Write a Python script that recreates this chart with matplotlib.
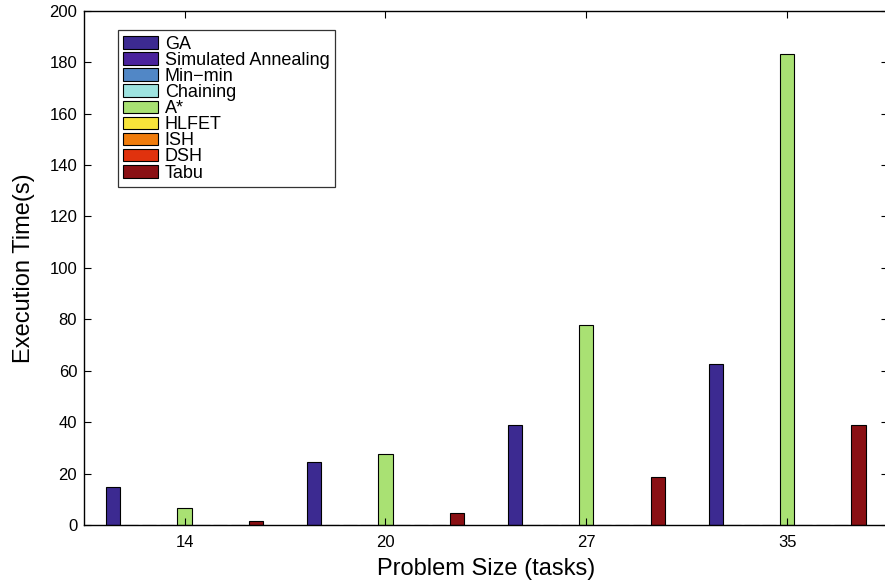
import numpy as np
import matplotlib.pyplot as plt

plt.rcParams['font.family'] = ['Liberation Sans', 'DejaVu Sans']

sizes = ['14', '20', '27', '35']
algorithms = ['GA', 'Simulated Annealing', 'Min\u2212min', 'Chaining', 'A*',
              'HLFET', 'ISH', 'DSH', 'Tabu']
colors = ['#3c2a91', '#4a229c', '#5187c6', '#9ee3e0', '#a9e173',
          '#f7e43a', '#f07c0c', '#e0320e', '#8a1014']

# execution time (s) per algorithm, one value per problem size
ga = [14.8, 24.5, 38.9, 62.6]
sa = [0.05, 0.08, 0.1, 0.15]
minmin = [0.02, 0.03, 0.05, 0.06]
chaining = [0.03, 0.04, 0.06, 0.08]
astar = [6.5, 27.5, 77.7, 183.2]
hlfet = [0.04, 0.05, 0.07, 0.09]
ish = [0.05, 0.06, 0.08, 0.1]
dsh = [0.06, 0.07, 0.09, 0.12]
tabu = [1.4, 4.6, 18.6, 38.8]
times = [ga, sa, minmin, chaining, astar, hlfet, ish, dsh, tabu]

fig = plt.figure(figsize=(8.85, 5.81), dpi=100)
ax = fig.add_axes([0.095, 0.0964, 0.908, 0.885])

x = np.arange(1, len(sizes) + 1)
n = len(algorithms)
slot = 0.8 / n
for i, (name, vals, c) in enumerate(zip(algorithms, times, colors)):
    off = (i - (n - 1) / 2) * slot
    ax.bar(x + off, vals, width=slot * 0.8, color=c, edgecolor='black',
           linewidth=0.8, label=name)

ax.set_xlim(0.5, 4.5)
ax.set_ylim(0, 200)
ax.set_yticks(np.arange(0, 201, 20))
ax.set_xticks(x)
ax.set_xticklabels(sizes)
ax.tick_params(direction='in', top=True, right=True, length=5,
               labelsize=12, pad=7)
ax.tick_params(axis='y', pad=5)
for s in ax.spines.values():
    s.set_linewidth(1.0)

ax.set_xlabel('Problem Size (tasks)', fontsize=17, labelpad=6)
ax.set_ylabel('Execution Time(s)', fontsize=17, labelpad=10)

leg = ax.legend(loc='upper left', bbox_to_anchor=(0.042, 0.962), fontsize=13,
                frameon=True, fancybox=False, edgecolor='black',
                handlelength=1.9, handleheight=0.7, labelspacing=-0.05,
                borderpad=0.3, handletextpad=0.4, borderaxespad=0)
leg.get_frame().set_linewidth(0.9)

fig.savefig('out.png', dpi=100)
